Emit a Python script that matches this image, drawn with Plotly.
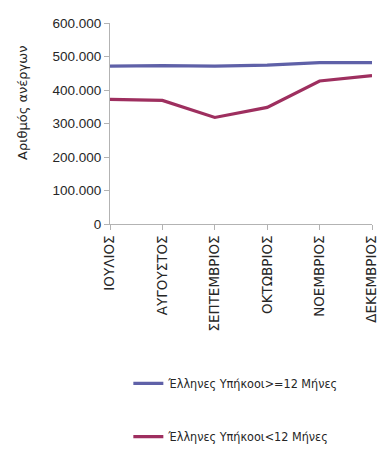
import plotly.graph_objs as go

months = ["ΙΟΥΛΙΟΣ", "ΑΥΓΟΥΣΤΟΣ", "ΣΕΠΤΕΜΒΡΙΟΣ", "ΟΚΤΩΒΡΙΟΣ", "ΝΟΕΜΒΡΙΟΣ", "ΔΕΚΕΜΒΡΙΟΣ"]
over12 = [471000, 473000, 471000, 474000, 482000, 482000]
under12 = [372000, 369000, 318000, 348000, 427000, 443000]

axisColor = "#b3b3b3"
textColor = "#262626"

trace1 = go.Scatter(
    name="Έλληνες Υπήκοοι>=12 Μήνες",
    x=list(range(len(months))),
    y=over12,
    mode="lines",
    line=dict(color="#5f61a8", width=3.2),
    legendgroup="a")
trace2 = go.Scatter(
    name="Έλληνες Υπήκοοι<12 Μήνες",
    x=list(range(len(months))),
    y=under12,
    mode="lines",
    line=dict(color="#9e2f5f", width=3.2),
    legendgroup="b")

layout = go.Layout(
    width=380, height=451,
    margin=dict(l=110, r=8, t=23, b=227, autoexpand=False),
    paper_bgcolor="white",
    plot_bgcolor="white",
    separators=",.",
    font=dict(family="Liberation Sans, Arial, sans-serif", color=textColor, size=13),
    xaxis=dict(
        range=[0, 5],
        tickvals=list(range(len(months))),
        ticktext=months,
        tickangle=-90,
        showgrid=False,
        zeroline=False,
        showline=True,
        linecolor=axisColor,
        linewidth=1,
        ticks="outside",
        ticklen=5,
        tickcolor=axisColor,
        tickfont=dict(family="DejaVu Sans", size=13.5),
        automargin=False,
        fixedrange=True),
    yaxis=dict(
        range=[0, 600000],
        tickvals=[0, 100000, 200000, 300000, 400000, 500000, 600000],
        tickformat=",d",
        showgrid=False,
        zeroline=False,
        showline=True,
        linecolor=axisColor,
        linewidth=1,
        ticks="outside",
        ticklen=5,
        tickcolor=axisColor,
        tickfont=dict(size=13.5),
        automargin=False,
        fixedrange=True),
    annotations=[dict(
        text="Αριθμός ανέργων",
        xref="paper", yref="paper",
        x=-0.332, y=0.602,
        xanchor="center", yanchor="middle",
        textangle=-90,
        showarrow=False,
        font=dict(family="DejaVu Sans", size=13, color=textColor))],
    showlegend=True,
    legend=dict(
        x=0.07, y=-0.72,
        xanchor="left", yanchor="top",
        orientation="v",
        tracegroupgap=34,
        font=dict(family="Liberation Sans Narrow, DejaVu Sans Condensed, sans-serif", size=12.5, color=textColor),
        bgcolor="rgba(0,0,0,0)"))

fig = go.Figure(data=[trace1, trace2], layout=layout)
# page default margin shifts the chart, remove it
fig.write_html("out.html", config={"displayModeBar": False},
               post_script="document.body.style.margin='0';")
